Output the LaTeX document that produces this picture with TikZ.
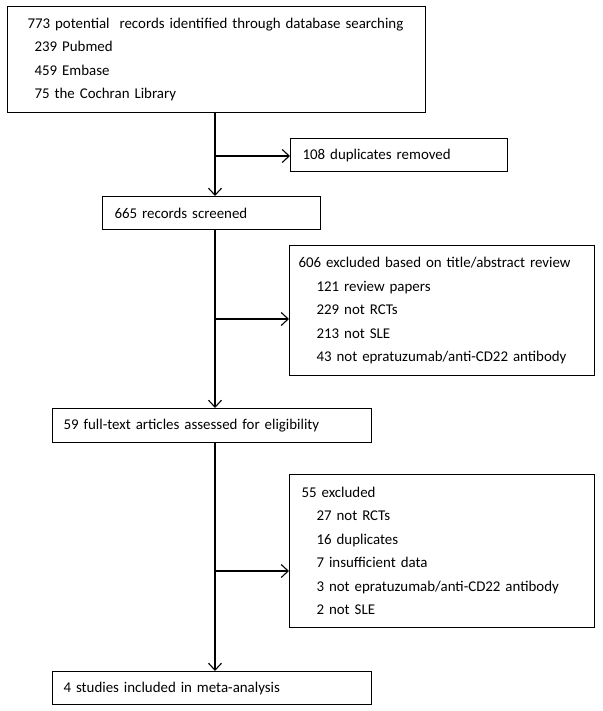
\documentclass[tikz,border=0pt]{standalone}
\usepackage{fontspec}
\setmainfont{Carlito}
\usetikzlibrary{arrows.meta}
\tikzset{
  box/.style={draw=black, line width=1.1pt, rectangle, anchor=north west, align=left,
    inner ysep=0pt, font=\fontsize{14.9}{23.5}\selectfont},
  arr/.style={draw=black, line width=1.1pt, -{Straight Barb[length=7pt,width=13pt,line width=1.1pt]}}
}
\newcommand{\ind}[1]{\hspace*{#1pt}}
\begin{document}
\begin{tikzpicture}[x=1pt,y=-1pt]
\useasboundingbox (0,0) rectangle (602,711);
\node[box, minimum width=418pt, minimum height=106pt, text width=378pt, inner xsep=20pt] (b1) at (7,6)
 {\mbox{773 potential\ \ records identified through database searching}\\
  \ind{7}239 Pubmed\\
  \ind{7}459 Embase\\
  \ind{7}75 the Cochran Library};
\node[box, minimum width=217pt, minimum height=33pt, text width=193pt, inner xsep=12pt] (dup) at (290,138)
 {108 duplicates removed};
\node[box, minimum width=218pt, minimum height=33pt, text width=194pt, inner xsep=12pt] (scr) at (102,196)
 {665 records screened};
\node[box, minimum width=305pt, minimum height=130pt, text width=287pt, inner xsep=9pt] (ex1) at (289,245)
 {606 excluded based on title/abstract review\\
  \ind{18}121 review papers\\
  \ind{18}229 not RCTs\\
  \ind{18}213 not SLE\\
  \ind{18}43 not epratuzumab/anti-CD22 antibody};
\node[box, minimum width=319pt, minimum height=34pt, text width=297pt, inner xsep=11pt] (ft) at (52,408)
 {59 full-text articles assessed for eligibility};
\node[box, minimum width=305pt, minimum height=153pt, text width=281pt, inner xsep=12pt] (ex2) at (289,474)
 {55 excluded\\
  \ind{15}27 not RCTs\\
  \ind{15}16 duplicates\\
  \ind{15}7 insufficient data\\
  \ind{15}3 not epratuzumab/anti-CD22 antibody\\
  \ind{15}2 not SLE};
\node[box, minimum width=319pt, minimum height=33pt, text width=297pt, inner xsep=11pt] (fin) at (52,671)
 {4 studies included in meta-analysis};
\coordinate (j1) at (215,156);
\coordinate (j2) at (215,319);
\coordinate (j3) at (215,571);
\draw[arr] (b1.south -| j1) -- (scr.north -| j1);
\draw[arr] (j1) -- (dup.west |- j1);
\draw[arr] (scr.south -| j2) -- (ft.north -| j2);
\draw[arr] (j2) -- (ex1.west |- j2);
\draw[arr] (ft.south -| j3) -- (fin.north -| j3);
\draw[arr] (j3) -- (ex2.west |- j3);
\end{tikzpicture}
\end{document}
